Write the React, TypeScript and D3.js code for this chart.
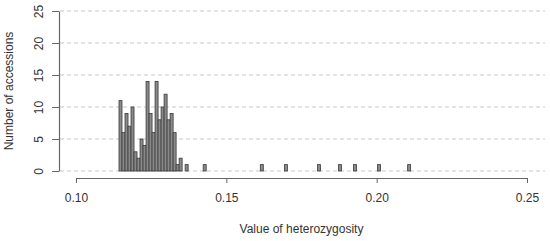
import { useRef, useEffect } from 'react';
import * as d3 from 'd3';

// histogram of heterozygosity, bin width 0.001
const binWidth = 0.001;
const binStarts = [
  0.1143, 0.1153, 0.1163, 0.1173, 0.1183, 0.1193, 0.1203, 0.1213, 0.1223, 0.1233,
  0.1243, 0.1253, 0.1263, 0.1273, 0.1283, 0.1293, 0.1303, 0.1313, 0.1323, 0.1333,
  0.1343, 0.1363, 0.1423, 0.1613, 0.1693, 0.1803, 0.1873, 0.1923, 0.2003, 0.2103,
];
const counts = [
  11, 6, 9, 7, 10, 3, 2, 5, 4, 14,
  9, 6, 14, 8, 10, 12, 8, 9, 6, 1,
  2, 1, 1, 1, 1, 1, 1, 1, 1, 1,
];
const xTicks = [0.1, 0.15, 0.2, 0.25];
const yTicks = [0, 5, 10, 15, 20, 25];

const W = 550;
const H = 241;

const App = () => {
  const svgRef = useRef<SVGSVGElement>(null);

  useEffect(() => {
    const svg = d3.select(svgRef.current);
    svg.selectAll('*').remove();

    const x = d3.scaleLinear().domain([0.1, 0.25]).range([76, 527]);
    const y = d3.scaleLinear().domain([0, 25]).range([171, 11]);
    const font = 'Liberation Sans, Arial, sans-serif';
    const textCol = '#333';
    const axisCol = '#666';

    // dashed horizontal grid
    svg.append('g')
      .selectAll('line')
      .data(yTicks)
      .join('line')
      .attr('x1', 60)
      .attr('x2', 545)
      .attr('y1', d => y(d))
      .attr('y2', d => y(d))
      .attr('stroke', '#c8c8c8')
      .attr('stroke-dasharray', '4,3');

    // bars
    const data = binStarts.map((s, i) => ({ s, c: counts[i] }));
    svg.append('g')
      .selectAll('rect')
      .data(data)
      .join('rect')
      .attr('x', d => x(d.s))
      .attr('width', x(binWidth) - x(0))
      .attr('y', d => y(d.c))
      .attr('height', d => y(0) - y(d.c))
      .attr('fill', '#8a8a8a')
      .attr('stroke', '#3a3a3a')
      .attr('stroke-width', 0.8);

    // x axis
    const xAxis = svg.append('g')
      .attr('transform', 'translate(0,178)')
      .call(d3.axisBottom(x).tickValues(xTicks).tickFormat(d3.format('.2f')).tickSize(5).tickSizeOuter(0).tickPadding(10));
    xAxis.select('.domain').attr('stroke', axisCol).attr('stroke-width', 1.2);
    xAxis.selectAll('.tick line').attr('stroke', axisCol);
    xAxis.selectAll('text').attr('font-family', font).attr('font-size', 12).attr('fill', textCol);

    // y axis
    const yAxis = svg.append('g')
      .attr('transform', 'translate(59,0)')
      .call(d3.axisLeft(y).tickValues(yTicks).tickSize(7).tickSizeOuter(0));
    yAxis.select('.domain').attr('stroke', axisCol).attr('stroke-width', 1.2);
    yAxis.selectAll('.tick line').attr('stroke', axisCol);
    yAxis.selectAll('.tick text')
      .attr('x', 0)
      .attr('dy', null)
      .attr('transform', 'translate(-19,0) rotate(-90)')
      .attr('text-anchor', 'middle')
      .attr('dominant-baseline', 'middle')
      .attr('font-family', font)
      .attr('font-size', 12)
      .attr('fill', textCol);

    svg.append('text')
      .attr('x', (x(0.1) + x(0.25)) / 2)
      .attr('y', 230)
      .attr('text-anchor', 'middle')
      .attr('dominant-baseline', 'middle')
      .attr('font-family', font)
      .attr('font-size', 12)
      .attr('fill', textCol)
      .text('Value of heterozygosity');

    svg.append('text')
      .attr('transform', `translate(10,${(y(0) + y(25)) / 2}) rotate(-90)`)
      .attr('text-anchor', 'middle')
      .attr('dominant-baseline', 'middle')
      .attr('font-family', font)
      .attr('font-size', 12)
      .attr('fill', textCol)
      .text('Number of accessions');
  }, []);

  return (
    <svg
      ref={svgRef}
      width={W}
      height={H}
      style={{ position: 'absolute', left: 0, top: 0, background: '#fff' }}
    />
  );
};

export default App;
